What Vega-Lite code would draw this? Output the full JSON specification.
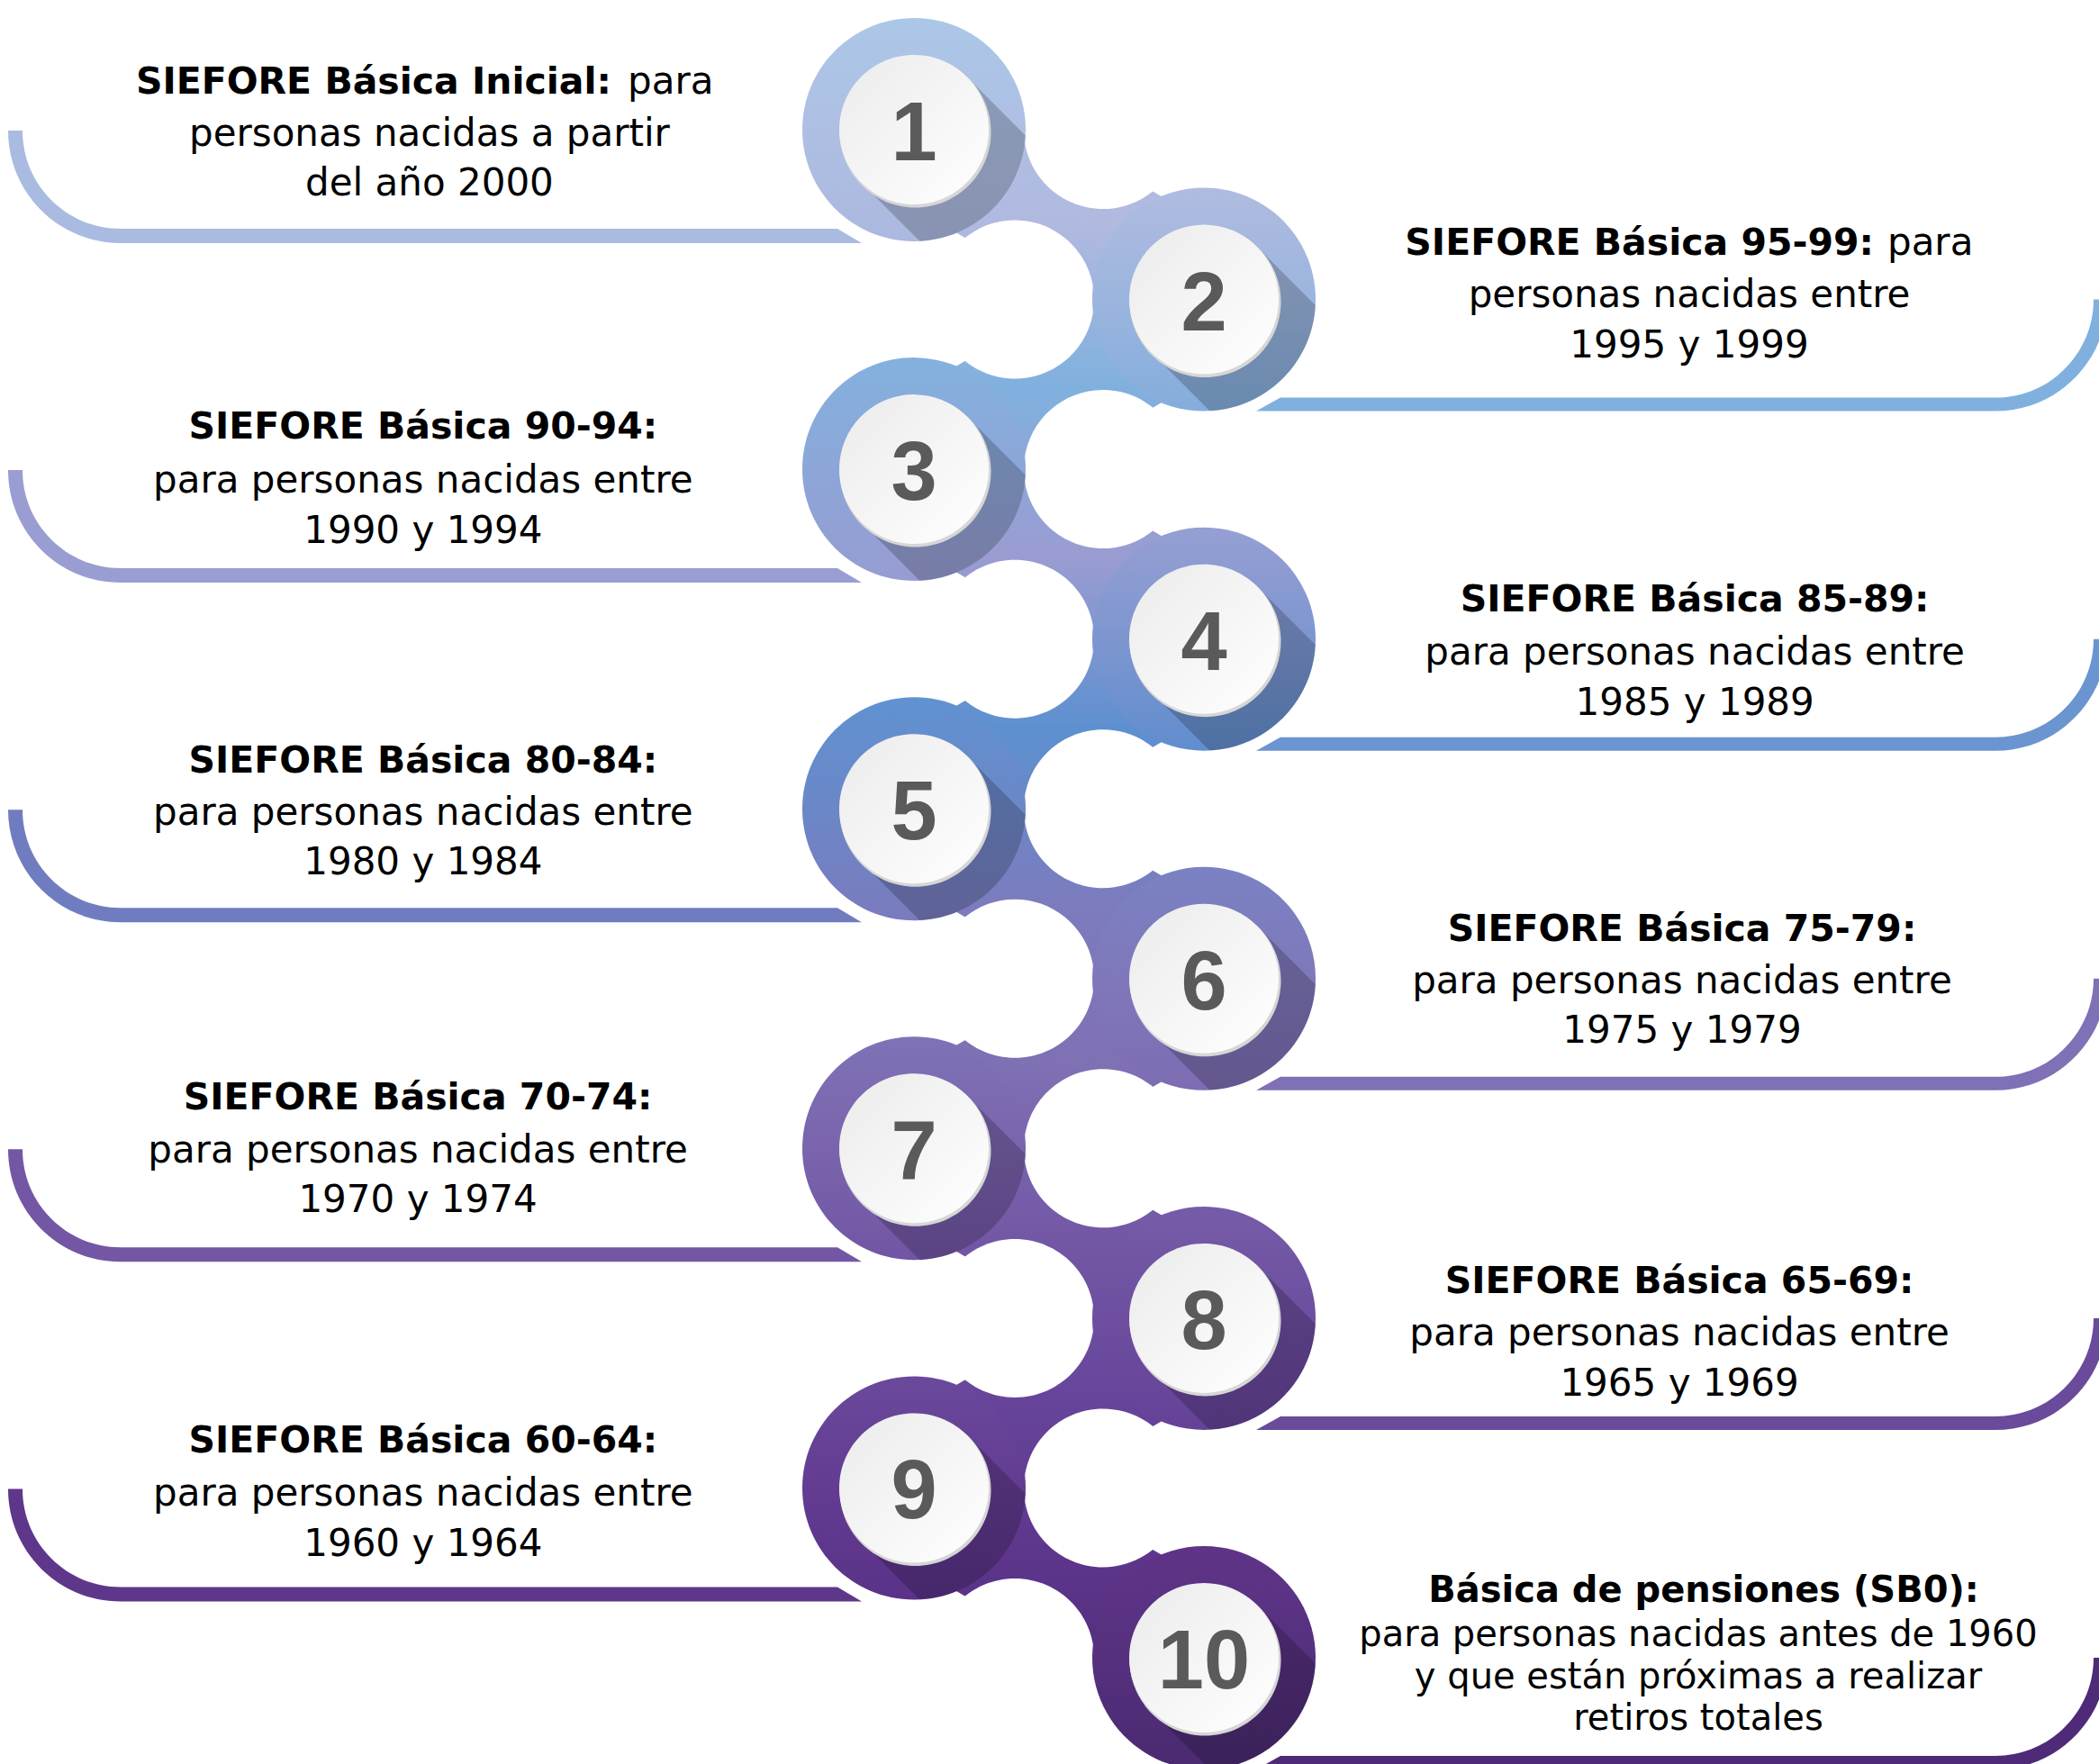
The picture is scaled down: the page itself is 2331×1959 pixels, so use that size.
{
"$schema":"https://vega.github.io/schema/vega-lite/v6.json",
"width":2331,"height":1959,"padding":0,"autosize":{"type":"none"},
"background":"#ffffff",
"config":{"view":{"stroke":null}},
"datasets":{
"circles":[
{"row":1,"lane":0,"label":"1"},{"row":2,"lane":1,"label":"2"},{"row":3,"lane":0,"label":"3"},{"row":4,"lane":1,"label":"4"},{"row":5,"lane":0,"label":"5"},
{"row":6,"lane":1,"label":"6"},{"row":7,"lane":0,"label":"7"},{"row":8,"lane":1,"label":"8"},{"row":9,"lane":0,"label":"9"},{"row":10,"lane":1,"label":"10"}],
"cutouts":[
{"row":1,"lane":0.652},{"row":2,"lane":0.348},{"row":3,"lane":0.652},{"row":4,"lane":0.348},{"row":5,"lane":0.652},
{"row":6,"lane":0.348},{"row":7,"lane":0.652},{"row":8,"lane":0.348},{"row":9,"lane":0.652},{"row":10,"lane":0.348}],
"texts":[
{"part":"lead","lane":-1.0435,"row":0.789,"text":"SIEFORE Básica Inicial:"},
{"part":"tail","lane":-0.9876,"row":0.789,"text":"para"},
{"part":"body","lane":-1.671,"row":1.096,"text":"personas nacidas a partir"},
{"part":"body","lane":-1.671,"row":1.388,"text":"del año 2000"},
{"part":"lead","lane":3.3106,"row":1.737,"text":"SIEFORE Básica 95-99:"},
{"part":"tail","lane":3.3571,"row":1.737,"text":"para"},
{"part":"body","lane":2.674,"row":2.045,"text":"personas nacidas entre"},
{"part":"body","lane":2.674,"row":2.342,"text":"1995 y 1999"},
{"part":"title","lane":-1.693,"row":2.817,"text":"SIEFORE Básica 90-94:"},
{"part":"body","lane":-1.693,"row":3.135,"text":"para personas nacidas entre"},
{"part":"body","lane":-1.693,"row":3.432,"text":"1990 y 1994"},
{"part":"title","lane":2.693,"row":3.835,"text":"SIEFORE Básica 85-89:"},
{"part":"body","lane":2.693,"row":4.148,"text":"para personas nacidas entre"},
{"part":"body","lane":2.693,"row":4.445,"text":"1985 y 1989"},
{"part":"title","lane":-1.693,"row":4.788,"text":"SIEFORE Básica 80-84:"},
{"part":"body","lane":-1.693,"row":5.095,"text":"para personas nacidas entre"},
{"part":"body","lane":-1.693,"row":5.387,"text":"1980 y 1984"},
{"part":"title","lane":2.649,"row":5.776,"text":"SIEFORE Básica 75-79:"},
{"part":"body","lane":2.649,"row":6.084,"text":"para personas nacidas entre"},
{"part":"body","lane":2.649,"row":6.38,"text":"1975 y 1979"},
{"part":"title","lane":-1.711,"row":6.768,"text":"SIEFORE Básica 70-74:"},
{"part":"body","lane":-1.711,"row":7.081,"text":"para personas nacidas entre"},
{"part":"body","lane":-1.711,"row":7.375,"text":"1970 y 1974"},
{"part":"title","lane":2.64,"row":7.85,"text":"SIEFORE Básica 65-69:"},
{"part":"body","lane":2.64,"row":8.157,"text":"para personas nacidas entre"},
{"part":"body","lane":2.64,"row":8.454,"text":"1965 y 1969"},
{"part":"title","lane":-1.693,"row":8.79,"text":"SIEFORE Básica 60-64:"},
{"part":"body","lane":-1.693,"row":9.106,"text":"para personas nacidas entre"},
{"part":"body","lane":-1.693,"row":9.403,"text":"1960 y 1964"},
{"part":"title10","lane":2.7236,"row":9.672,"text":"Básica de pensiones (SB0):"},
{"part":"body10","lane":2.705,"row":9.93,"text":"para personas nacidas antes de 1960"},
{"part":"body10","lane":2.705,"row":10.18,"text":"y que están próximas a realizar"},
{"part":"body10","lane":2.705,"row":10.425,"text":"retiros totales"}]
},
"encoding":{
"x":{"field":"lane","type":"quantitative","scale":{"domain":[-3.1522,4.087],"nice":false,"zero":false},"axis":null},
"y":{"field":"row","type":"quantitative","scale":{"domain":[0.2363,10.6256],"nice":false,"zero":false,"reverse":true},"axis":null}
},
"layer":[
{"data":{"name":"circles"},"transform":[{"filter":"datum.lane == 0"}],
 "mark":{"type":"point","shape":"M-1006,1A125,125 0 0 0 -881,126L-58,126L-85,110L-881,110A109,109 0 0 1 -990,1Z","size":4,"filled":true,"opacity":1,"strokeWidth":0},
 "encoding":{"fill":{"field":"row","type":"ordinal","scale":{"domain":[1,2,3,4,5,6,7,8,9,10],"range":["#a9bbe0","#80b0de","#9a9dd1","#6b95d0","#6f7dc0","#8070b5","#7357a5","#6a4a9b","#5e378b","#4f2a78"]},"legend":null}}},
{"data":{"name":"circles"},"transform":[{"filter":"datum.lane == 1"}],
 "mark":{"type":"point","shape":"M1003,0A124,124 0 0 1 879,124L58,124L85,109L879,109A109,109 0 0 0 988,0Z","size":4,"filled":true,"opacity":1,"strokeWidth":0},
 "encoding":{"fill":{"field":"row","type":"ordinal","scale":{"domain":[1,2,3,4,5,6,7,8,9,10],"range":["#a9bbe0","#80b0de","#9a9dd1","#6b95d0","#6f7dc0","#8070b5","#7357a5","#6a4a9b","#5e378b","#4f2a78"]},"legend":null}}},
{"data":{"name":"circles"},
 "mark":{"type":"line","strokeWidth":150,"strokeJoin":"round","strokeCap":"butt",
  "stroke":{"gradient":"linear","x1":0,"y1":0,"x2":0,"y2":1,"stops":[
   {"offset":0,"color":"#aebfe3"},{"offset":0.0625,"color":"#b1b9df"},{"offset":0.1685,"color":"#80b0de"},{"offset":0.2805,"color":"#9a9cd1"},
   {"offset":0.3925,"color":"#5d90d0"},{"offset":0.5044,"color":"#7b7cbe"},{"offset":0.6105,"color":"#8070b4"},{"offset":0.7224,"color":"#7358a6"},
   {"offset":0.8344,"color":"#66449a"},{"offset":0.9464,"color":"#5c348a"},{"offset":1,"color":"#532f7e"}]}},
 "encoding":{"order":{"field":"row","type":"quantitative"}}},
{"data":{"name":"cutouts"},
 "mark":{"type":"point","shape":"M88,0A88,88 0 1 1 -88,0A88,88 0 1 1 88,0Z","size":4,"filled":true,"opacity":1,"fill":"#ffffff","strokeWidth":0}},
{"data":{"name":"circles"},"transform":[{"filter":"datum.row == 1"}],"mark":{"type":"point","shape":"M124,0A124,124 0 1 1 -124,0A124,124 0 1 1 124,0Z","size":4,"filled":true,"opacity":1,"strokeWidth":0,
 "fill":{"gradient":"linear","x1":0,"y1":0,"x2":0,"y2":1,"stops":[{"offset":0,"color":"#abc7e8"},{"offset":0.5,"color":"#aebfe3"},{"offset":1,"color":"#acb8df"}]}}},
{"data":{"name":"circles"},"transform":[{"filter":"datum.row == 2"}],"mark":{"type":"point","shape":"M124,0A124,124 0 1 1 -124,0A124,124 0 1 1 124,0Z","size":4,"filled":true,"opacity":1,"strokeWidth":0,
 "fill":{"gradient":"linear","x1":0,"y1":0,"x2":0,"y2":1,"stops":[{"offset":0,"color":"#b0bbe0"},{"offset":0.5,"color":"#9bb5de"},{"offset":1,"color":"#84addc"}]}}},
{"data":{"name":"circles"},"transform":[{"filter":"datum.row == 3"}],"mark":{"type":"point","shape":"M124,0A124,124 0 1 1 -124,0A124,124 0 1 1 124,0Z","size":4,"filled":true,"opacity":1,"strokeWidth":0,
 "fill":{"gradient":"linear","x1":0,"y1":0,"x2":0,"y2":1,"stops":[{"offset":0,"color":"#84b1de"},{"offset":0.5,"color":"#8ca6d8"},{"offset":1,"color":"#979cd1"}]}}},
{"data":{"name":"circles"},"transform":[{"filter":"datum.row == 4"}],"mark":{"type":"point","shape":"M124,0A124,124 0 1 1 -124,0A124,124 0 1 1 124,0Z","size":4,"filled":true,"opacity":1,"strokeWidth":0,
 "fill":{"gradient":"linear","x1":0,"y1":0,"x2":0,"y2":1,"stops":[{"offset":0,"color":"#969fd3"},{"offset":0.5,"color":"#7d96d0"},{"offset":1,"color":"#618dce"}]}}},
{"data":{"name":"circles"},"transform":[{"filter":"datum.row == 5"}],"mark":{"type":"point","shape":"M124,0A124,124 0 1 1 -124,0A124,124 0 1 1 124,0Z","size":4,"filled":true,"opacity":1,"strokeWidth":0,
 "fill":{"gradient":"linear","x1":0,"y1":0,"x2":0,"y2":1,"stops":[{"offset":0,"color":"#6092d1"},{"offset":0.5,"color":"#6b87c7"},{"offset":1,"color":"#7a7bbd"}]}}},
{"data":{"name":"circles"},"transform":[{"filter":"datum.row == 6"}],"mark":{"type":"point","shape":"M124,0A124,124 0 1 1 -124,0A124,124 0 1 1 124,0Z","size":4,"filled":true,"opacity":1,"strokeWidth":0,
 "fill":{"gradient":"linear","x1":0,"y1":0,"x2":0,"y2":1,"stops":[{"offset":0,"color":"#7a82c3"},{"offset":0.5,"color":"#7f78ba"},{"offset":1,"color":"#7e6cb2"}]}}},
{"data":{"name":"circles"},"transform":[{"filter":"datum.row == 7"}],"mark":{"type":"point","shape":"M124,0A124,124 0 1 1 -124,0A124,124 0 1 1 124,0Z","size":4,"filled":true,"opacity":1,"strokeWidth":0,
 "fill":{"gradient":"linear","x1":0,"y1":0,"x2":0,"y2":1,"stops":[{"offset":0,"color":"#7f72b6"},{"offset":0.5,"color":"#7a64ad"},{"offset":1,"color":"#7155a4"}]}}},
{"data":{"name":"circles"},"transform":[{"filter":"datum.row == 8"}],"mark":{"type":"point","shape":"M124,0A124,124 0 1 1 -124,0A124,124 0 1 1 124,0Z","size":4,"filled":true,"opacity":1,"strokeWidth":0,
 "fill":{"gradient":"linear","x1":0,"y1":0,"x2":0,"y2":1,"stops":[{"offset":0,"color":"#755ca8"},{"offset":0.5,"color":"#6d4ea0"},{"offset":1,"color":"#654298"}]}}},
{"data":{"name":"circles"},"transform":[{"filter":"datum.row == 9"}],"mark":{"type":"point","shape":"M124,0A124,124 0 1 1 -124,0A124,124 0 1 1 124,0Z","size":4,"filled":true,"opacity":1,"strokeWidth":0,
 "fill":{"gradient":"linear","x1":0,"y1":0,"x2":0,"y2":1,"stops":[{"offset":0,"color":"#6a499b"},{"offset":0.5,"color":"#633c92"},{"offset":1,"color":"#5a3288"}]}}},
{"data":{"name":"circles"},"transform":[{"filter":"datum.row == 10"}],"mark":{"type":"point","shape":"M124,0A124,124 0 1 1 -124,0A124,124 0 1 1 124,0Z","size":4,"filled":true,"opacity":1,"strokeWidth":0,
 "fill":{"gradient":"linear","x1":0,"y1":0,"x2":0,"y2":1,"stops":[{"offset":0,"color":"#5f3488"},{"offset":0.5,"color":"#56307f"},{"offset":1,"color":"#4a2a70"}]}}},
{"data":{"name":"circles"},
 "mark":{"type":"point","shape":"M58.7,-58.7L123.8,6.4A124,124 0 0 1 6.4,123.8L-58.7,58.7Z","size":4,"filled":true,"opacity":1,"fill":"#000000","fillOpacity":0.2,"strokeWidth":0}},
{"data":{"name":"circles"},
 "mark":{"type":"point","shape":"M85.5,2.5A84,84 0 1 1 -82.5,2.5A84,84 0 1 1 85.5,2.5Z","size":4,"filled":true,"opacity":1,"fill":"#d6d6d6","strokeWidth":0}},
{"data":{"name":"circles"},
 "mark":{"type":"point","shape":"M83,0A83,83 0 1 1 -83,0A83,83 0 1 1 83,0Z","size":4,"filled":true,"opacity":1,"strokeWidth":0,
 "fill":{"gradient":"linear","x1":0,"y1":0,"x2":1,"y2":1,"stops":[{"offset":0,"color":"#ebebeb"},{"offset":1,"color":"#ffffff"}]}}},
{"data":{"name":"circles"},
 "mark":{"type":"text","font":"Liberation Sans","fontWeight":"bold","fontSize":92,"color":"#5a5a5a","align":"center","baseline":"alphabetic","dy":34},
 "encoding":{"text":{"field":"label"}}},
{"data":{"name":"texts"},"transform":[{"filter":"datum.part == 'title'"}],
 "mark":{"type":"text","font":"DejaVu Sans","fontWeight":"bold","fontSize":41,"color":"#000000","align":"center","baseline":"alphabetic"},
 "encoding":{"text":{"field":"text"}}},
{"data":{"name":"texts"},"transform":[{"filter":"datum.part == 'title10'"}],
 "mark":{"type":"text","font":"DejaVu Sans","fontWeight":"bold","fontSize":40,"color":"#000000","align":"center","baseline":"alphabetic"},
 "encoding":{"text":{"field":"text"}}},
{"data":{"name":"texts"},"transform":[{"filter":"datum.part == 'lead'"}],
 "mark":{"type":"text","font":"DejaVu Sans","fontWeight":"bold","fontSize":41,"color":"#000000","align":"right","baseline":"alphabetic"},
 "encoding":{"text":{"field":"text"}}},
{"data":{"name":"texts"},"transform":[{"filter":"datum.part == 'tail'"}],
 "mark":{"type":"text","font":"DejaVu Sans","fontSize":42,"color":"#000000","align":"left","baseline":"alphabetic"},
 "encoding":{"text":{"field":"text"}}},
{"data":{"name":"texts"},"transform":[{"filter":"datum.part == 'body'"}],
 "mark":{"type":"text","font":"DejaVu Sans","fontSize":42,"color":"#000000","align":"center","baseline":"alphabetic"},
 "encoding":{"text":{"field":"text"}}},
{"data":{"name":"texts"},"transform":[{"filter":"datum.part == 'body10'"}],
 "mark":{"type":"text","font":"DejaVu Sans","fontSize":40,"color":"#000000","align":"center","baseline":"alphabetic"},
 "encoding":{"text":{"field":"text"}}}
]
}
